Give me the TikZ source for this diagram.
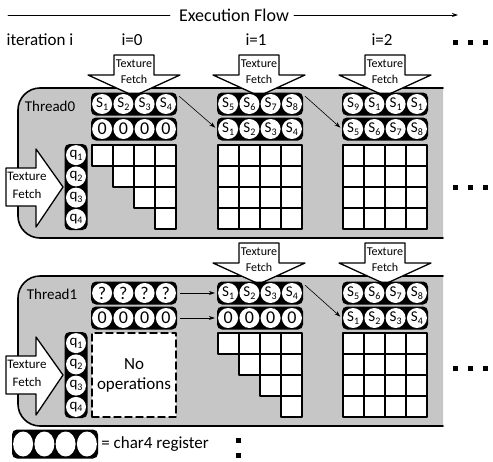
\documentclass[tikz,border=0pt]{standalone}
\usepackage{fontspec}
\setmainfont{Carlito}
\usetikzlibrary{arrows.meta,positioning,shapes.geometric,calc}
\definecolor{panelGray}{RGB}{198,198,198}
\tikzset{
  panel/.style={fill=panelGray, draw=black, line width=1.6pt, rounded corners=22pt},
  regbox/.style={fill=black, rounded corners=5pt, minimum width=86pt, minimum height=23pt, inner sep=0pt},
  slot/.style={circle, fill=white, minimum size=20pt, inner sep=0pt, font=\fontsize{15}{15}\selectfont},
  cell/.style={fill=white, draw=black, line width=1.4pt},
  fetchbox/.style={fill=white, draw=black, line width=1.3pt},
  fetchtext/.style={align=center, inner sep=0pt, font=\fontsize{12}{16}\selectfont},
  label/.style={inner sep=0pt, font=\fontsize{17}{20}\selectfont},
  flow/.style={-{Stealth[length=6pt,width=4pt]}, line width=0.6pt, shorten >=2pt}
}
\newcommand{\lo}[1]{\raisebox{-0.4ex}{\fontsize{10}{10}\selectfont #1}}
\newcommand{\bigd}[1]{{\fontsize{18}{18}\selectfont #1}}
\newcommand{\charreg}[6]{%
  \node[regbox] (#1) at #2 {};
  \node[slot] (#1a) at ([xshift=-31.9pt]#1.center) {#3};
  \node[slot] (#1b) at ([xshift=-10.6pt]#1.center) {#4};
  \node[slot] (#1c) at ([xshift=10.6pt]#1.center) {#5};
  \node[slot] (#1d) at ([xshift=31.9pt]#1.center) {#6};
}
\newcommand{\qreg}[2]{%
  \node[regbox, minimum width=23pt, minimum height=86pt] (#1) at #2 {};
  \node[slot] (#1a) at ([yshift=31.9pt]#1.center) {q\lo{1}};
  \node[slot] (#1b) at ([yshift=10.6pt]#1.center) {q\lo{2}};
  \node[slot] (#1c) at ([yshift=-10.6pt]#1.center) {q\lo{3}};
  \node[slot] (#1d) at ([yshift=-31.9pt]#1.center) {q\lo{4}};
}
\newcommand{\fetchdown}[3]{%
  \draw[fetchbox] ({#2-20},#3) -- ({#2+20},#3) -- ({#2+20},{#3+20}) -- ({#2+46},{#3+20})
    -- (#2,{#3+41}) -- ({#2-46},{#3+20}) -- ({#2-20},{#3+20}) -- cycle;
  \node[fetchtext] (#1) at (#2,{#3+17}) {Texture\\Fetch};
}
\newcommand{\fetchleft}[2]{%
  \draw[fetchbox] (6,{#2-19}) -- (36,{#2-19}) -- (36,{#2-38}) -- (63,#2)
    -- (36,{#2+40}) -- (36,{#2+19}) -- (6,{#2+19}) -- cycle;
  \node[fetchtext, font=\fontsize{13}{18}\selectfont] (#1) at (27,{#2-2}) {Texture\\Fetch};
}
\newcommand{\fullgrid}[2]{%
  \foreach \r in {0,...,3} \foreach \c in {0,...,3}
    \draw[cell] ({#1+21*\c},{#2+21*\r}) rectangle ++(21,21);
}
\newcommand{\trigrid}[2]{%
  \foreach \r in {0,...,3} \foreach \c in {\r,...,3}
    \draw[cell] ({#1+21*\c},{#2+21*\r}) rectangle ++(21,21);
}

\begin{document}
\begin{tikzpicture}[x=1pt, y=-1pt, line cap=round, line join=round]
    \useasboundingbox (0,0) rectangle (493,461);
    \node[label, font=\fontsize{18}{20}\selectfont] (flow) at (234,15) {Execution Flow};
    \coordinate (flowstart) at (8,15);
    \coordinate (flowend) at (458,15);
    \draw[line width=0.9pt] (flowstart) -- ([xshift=-9pt]flow.west);
    \draw[flow, line width=0.9pt, shorten >=0pt] ([xshift=5pt]flow.east) -- (flowend);
    \node[label] (iter) at (40,40) {iteration i};
    \node[label] (it0) at (132,40) {i=0};
    \node[label] (it1) at (256,40) {i=1};
    \node[label] (it2) at (382,40) {i=2};
    \foreach \x in {455,470,485} {
        \fill (\x-2.5,39.5) rectangle ++(5,5);
        \fill (\x-2.5,184.5) rectangle ++(5,5);
        \fill (\x-2.5,365.5) rectangle ++(5,5);
    }
    \foreach \y in {423,440,455} \fill (236,\y-2.5) rectangle ++(5,5);

    \draw[panel] (443,88) -- (18,88) -- (18,238) -- (443,238);
    \node[label, font=\fontsize{15}{15}\selectfont] (th0) at (50,106) {Thread0};
    \fetchdown{t0f0}{134}{55}
    \fetchdown{t0f1}{259}{55}
    \fetchdown{t0f2}{385}{55}
    \charreg{t0a0}{(134,104)}{S\lo{1}}{S\lo{2}}{S\lo{3}}{S\lo{4}}
    \charreg{t0b0}{(134,129)}{\bigd{0}}{\bigd{0}}{\bigd{0}}{\bigd{0}}
    \charreg{t0a1}{(260,104)}{S\lo{5}}{S\lo{6}}{S\lo{7}}{S\lo{8}}
    \charreg{t0b1}{(260,129)}{S\lo{1}}{S\lo{2}}{S\lo{3}}{S\lo{4}}
    \charreg{t0a2}{(385,104)}{S\lo{9}}{S\lo{1}}{S\lo{1}}{S\lo{1}}
    \charreg{t0b2}{(385,129)}{S\lo{5}}{S\lo{6}}{S\lo{7}}{S\lo{8}}
    \qreg{t0q}{(76,187)}
    \fetchleft{t0fl}{187}
    \trigrid{92}{145}
    \fullgrid{218}{145}
    \fullgrid{343}{145}
    \draw[flow] ([shift={(2pt,-4pt)}]t0a0.north east) -- (t0b1.west);
    \draw[flow] ([shift={(2pt,-4pt)}]t0a1.north east) -- (t0b2.west);

    \draw[panel] (443,276) -- (18,276) -- (18,426) -- (443,426);
    \node[label, font=\fontsize{15}{15}\selectfont] (th1) at (52,294) {Thread1};
    \fetchdown{t1f1}{259}{243}
    \fetchdown{t1f2}{385}{243}
    \charreg{t1a0}{(134,293)}{\bigd{?}}{\bigd{?}}{\bigd{?}}{\bigd{?}}
    \charreg{t1b0}{(134,318)}{\bigd{0}}{\bigd{0}}{\bigd{0}}{\bigd{0}}
    \charreg{t1a1}{(260,293)}{S\lo{1}}{S\lo{2}}{S\lo{3}}{S\lo{4}}
    \charreg{t1b1}{(260,318)}{\bigd{0}}{\bigd{0}}{\bigd{0}}{\bigd{0}}
    \charreg{t1a2}{(385,293)}{S\lo{5}}{S\lo{6}}{S\lo{7}}{S\lo{8}}
    \charreg{t1b2}{(385,318)}{S\lo{1}}{S\lo{2}}{S\lo{3}}{S\lo{4}}
    \qreg{t1q}{(76,375)}
    \fetchleft{t1fl}{375}
    \node[cell, dashed, dash pattern=on 7pt off 4pt, minimum size=84pt, inner sep=0pt, align=center,
        font=\fontsize{17}{20}\selectfont] (noop) at (134,375) {No\\operations};
    \trigrid{218}{333}
    \fullgrid{343}{333}
    \draw[flow] ([xshift=3pt]t1a0.east) -- (t1a1.west);
    \draw[flow] ([xshift=3pt]t1b0.east) -- (t1b1.west);
    \draw[flow] ([shift={(2pt,-4pt)}]t1a1.north east) -- (t1b2.west);

    \node[regbox, minimum height=29pt] (key) at (55,444) {};
    \foreach \k in {-31.9,-10.6,10.6,31.9}
        \node[slot, ellipse, minimum width=20pt, minimum height=25pt] (key\k) at ([xshift=\k pt]key.center) {};
    \node[label, right=3pt of key] (keytext) {= char4 register};
\end{tikzpicture}
\end{document}
